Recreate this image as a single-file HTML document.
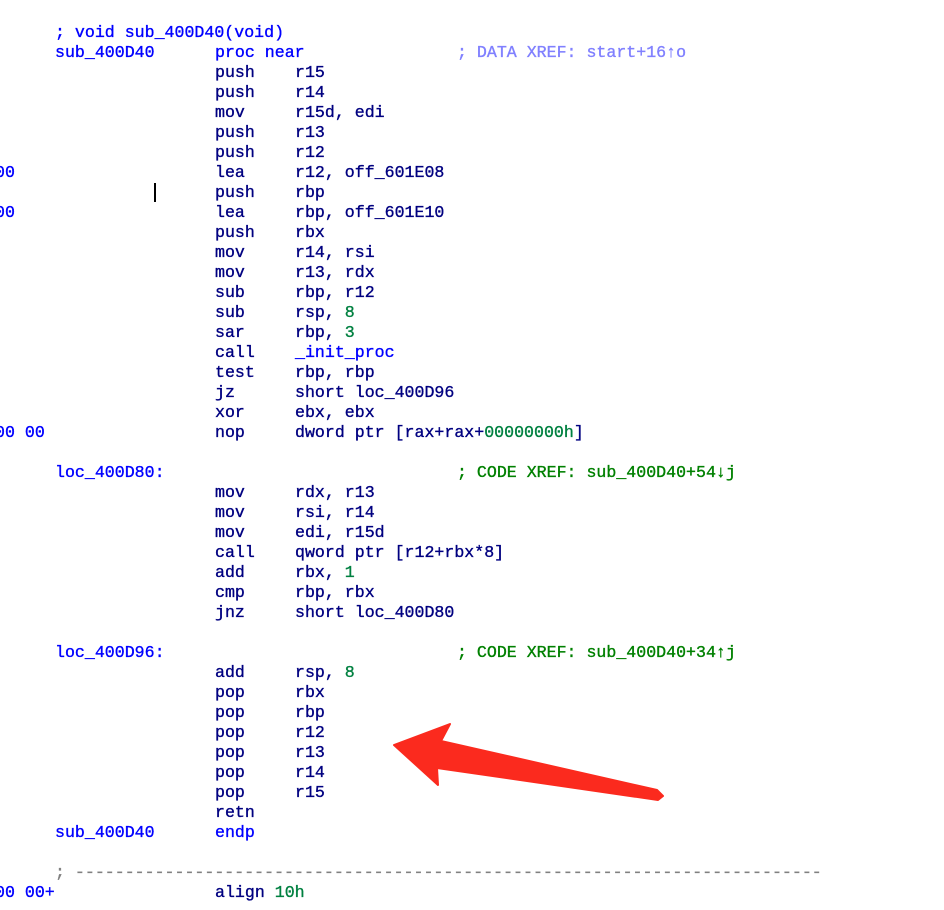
<!DOCTYPE html>
<html><head><meta charset="utf-8"><style>
html,body{margin:0;padding:0;background:#fff;width:944px;height:910px;overflow:hidden;position:relative}
.r{position:absolute;left:0;height:20px;line-height:20px;font-family:"Liberation Mono",monospace;font-size:16.6px;color:#000080;white-space:pre;-webkit-text-stroke:0.35px currentColor}
.r span{position:absolute;top:0}
.r b{font-weight:normal}
.l{color:#0000ff}
.n{color:#008040}
.d{color:#8080ff}
.c{color:#008000}
.g{color:#808080}
.a{left:55px}.m{left:215px}.o{left:295px}.x{left:457px}
</style></head><body>
<div class="r" style="top:23px"><span class="a l">; void sub_400D40(void)</span></div>
<div class="r" style="top:43px"><span class="a l">sub_400D40</span><span class="m l">proc near</span><span class="x d">; DATA XREF: start+16↑o</span></div>
<div class="r" style="top:63px"><span class="m">push</span><span class="o">r15</span></div>
<div class="r" style="top:83px"><span class="m">push</span><span class="o">r14</span></div>
<div class="r" style="top:103px"><span class="m">mov</span><span class="o">r15d, edi</span></div>
<div class="r" style="top:123px"><span class="m">push</span><span class="o">r13</span></div>
<div class="r" style="top:143px"><span class="m">push</span><span class="o">r12</span></div>
<div class="r" style="top:163px"><span class="l" style="left:-5px">00</span><span class="m">lea</span><span class="o">r12, off_601E08</span></div>
<div class="r" style="top:183px"><span class="m">push</span><span class="o">rbp</span></div>
<div style="position:absolute;left:154px;top:183px;width:2px;height:19px;background:#000"></div>
<div class="r" style="top:203px"><span class="l" style="left:-5px">00</span><span class="m">lea</span><span class="o">rbp, off_601E10</span></div>
<div class="r" style="top:223px"><span class="m">push</span><span class="o">rbx</span></div>
<div class="r" style="top:243px"><span class="m">mov</span><span class="o">r14, rsi</span></div>
<div class="r" style="top:263px"><span class="m">mov</span><span class="o">r13, rdx</span></div>
<div class="r" style="top:283px"><span class="m">sub</span><span class="o">rbp, r12</span></div>
<div class="r" style="top:303px"><span class="m">sub</span><span class="o">rsp, <b class="n">8</b></span></div>
<div class="r" style="top:323px"><span class="m">sar</span><span class="o">rbp, <b class="n">3</b></span></div>
<div class="r" style="top:343px"><span class="m">call</span><span class="o l">_init_proc</span></div>
<div class="r" style="top:363px"><span class="m">test</span><span class="o">rbp, rbp</span></div>
<div class="r" style="top:383px"><span class="m">jz</span><span class="o">short loc_400D96</span></div>
<div class="r" style="top:403px"><span class="m">xor</span><span class="o">ebx, ebx</span></div>
<div class="r" style="top:423px"><span class="l" style="left:-5px">00 00</span><span class="m">nop</span><span class="o">dword ptr [rax+rax+<b class="n">00000000h</b>]</span></div>
<div class="r" style="top:463px"><span class="a l">loc_400D80:</span><span class="x c">; CODE XREF: sub_400D40+54↓j</span></div>
<div class="r" style="top:483px"><span class="m">mov</span><span class="o">rdx, r13</span></div>
<div class="r" style="top:503px"><span class="m">mov</span><span class="o">rsi, r14</span></div>
<div class="r" style="top:523px"><span class="m">mov</span><span class="o">edi, r15d</span></div>
<div class="r" style="top:543px"><span class="m">call</span><span class="o">qword ptr [r12+rbx*8]</span></div>
<div class="r" style="top:563px"><span class="m">add</span><span class="o">rbx, <b class="n">1</b></span></div>
<div class="r" style="top:583px"><span class="m">cmp</span><span class="o">rbp, rbx</span></div>
<div class="r" style="top:603px"><span class="m">jnz</span><span class="o">short loc_400D80</span></div>
<div class="r" style="top:643px"><span class="a l">loc_400D96:</span><span class="x c">; CODE XREF: sub_400D40+34↑j</span></div>
<div class="r" style="top:663px"><span class="m">add</span><span class="o">rsp, <b class="n">8</b></span></div>
<div class="r" style="top:683px"><span class="m">pop</span><span class="o">rbx</span></div>
<div class="r" style="top:703px"><span class="m">pop</span><span class="o">rbp</span></div>
<div class="r" style="top:723px"><span class="m">pop</span><span class="o">r12</span></div>
<div class="r" style="top:743px"><span class="m">pop</span><span class="o">r13</span></div>
<div class="r" style="top:763px"><span class="m">pop</span><span class="o">r14</span></div>
<div class="r" style="top:783px"><span class="m">pop</span><span class="o">r15</span></div>
<div class="r" style="top:803px"><span class="m">retn</span></div>
<div class="r" style="top:823px"><span class="a l">sub_400D40</span><span class="m l">endp</span></div>
<div class="r" style="top:863px"><span class="a g">; ---------------------------------------------------------------------------</span></div>
<div class="r" style="top:883px"><span class="l" style="left:-5px">00 00+</span><span class="m">align <b class="n">10h</b></span></div>
<svg width="944" height="910" style="position:absolute;left:0;top:0">
<polygon fill="#fb2a1e" stroke="#fb2a1e" stroke-width="2" stroke-linejoin="round" points="394,745 450,724 441,741 657,790 663,796 658,800 437,768 438,785"/>
</svg>
</body></html>
